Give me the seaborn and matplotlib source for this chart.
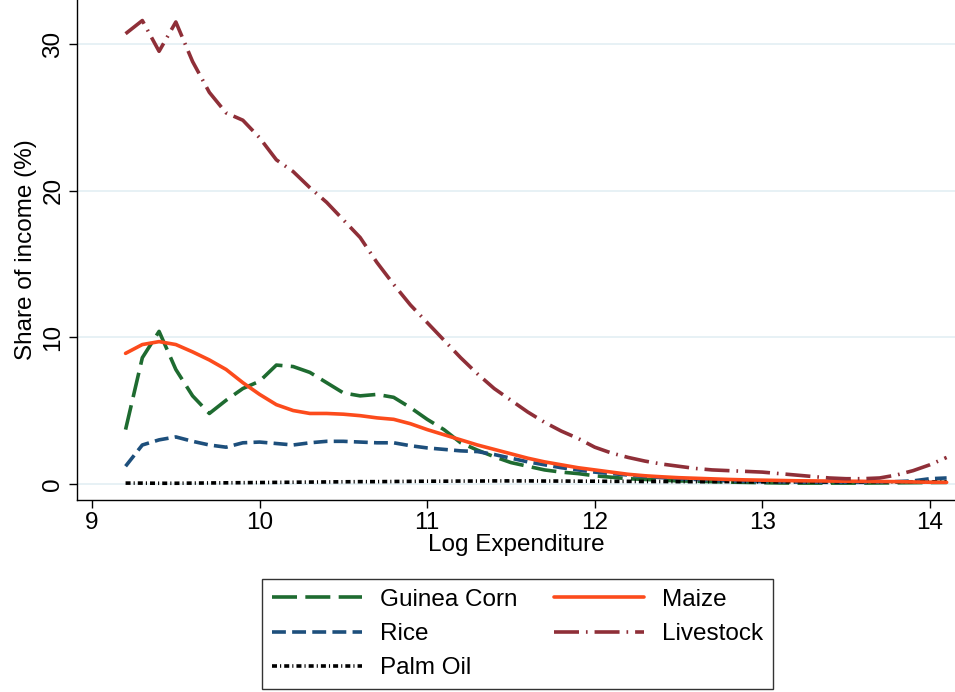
import numpy as np
import pandas as pd
import seaborn as sns
import matplotlib
matplotlib.use("Agg")
import matplotlib.pyplot as plt
from matplotlib.lines import Line2D

x_vals = [round(9.2 + 0.1 * i, 1) for i in range(50)]

guinea_corn = [3.7, 8.6, 10.4, 7.8, 6.0, 4.8, 5.7, 6.5, 7.0, 8.1,
               8.0, 7.6, 6.9, 6.2, 6.0, 6.1, 5.9, 5.2, 4.4, 3.7,
               2.8, 2.3, 1.85, 1.45, 1.2, 0.95, 0.8, 0.7, 0.55, 0.45,
               0.35, 0.3, 0.25, 0.2, 0.18, 0.15, 0.12, 0.1, 0.08, 0.06,
               0.05, 0.05, 0.05, 0.05, 0.05, 0.06, 0.07, 0.08, 0.09, 0.1]
maize = [8.9, 9.5, 9.7, 9.5, 9.0, 8.45, 7.8, 6.9, 6.1, 5.4,
         5.0, 4.8, 4.8, 4.75, 4.65, 4.5, 4.4, 4.1, 3.7, 3.35,
         3.0, 2.65, 2.35, 2.05, 1.75, 1.5, 1.3, 1.1, 0.95, 0.8,
         0.65, 0.55, 0.48, 0.42, 0.38, 0.34, 0.3, 0.27, 0.25, 0.23,
         0.21, 0.2, 0.19, 0.18, 0.17, 0.16, 0.15, 0.13, 0.11, 0.1]
rice = [1.2, 2.65, 3.0, 3.2, 2.9, 2.65, 2.5, 2.8, 2.85, 2.75,
        2.65, 2.8, 2.9, 2.9, 2.85, 2.8, 2.8, 2.6, 2.45, 2.35,
        2.25, 2.2, 2.0, 1.75, 1.5, 1.3, 1.1, 0.95, 0.8, 0.7,
        0.6, 0.5, 0.42, 0.35, 0.3, 0.25, 0.2, 0.17, 0.15, 0.13,
        0.12, 0.11, 0.1, 0.1, 0.1, 0.12, 0.15, 0.2, 0.35, 0.4]
livestock = [30.7, 31.6, 29.5, 31.5, 28.8, 26.7, 25.3, 24.8, 23.6, 22.1,
             21.3, 20.2, 19.2, 18.0, 16.8, 15.1, 13.6, 12.2, 11.0, 9.8,
             8.6, 7.5, 6.5, 5.7, 4.9, 4.2, 3.6, 3.1, 2.5, 2.1,
             1.8, 1.55, 1.35, 1.2, 1.05, 0.95, 0.9, 0.85, 0.8, 0.7,
             0.6, 0.5, 0.4, 0.35, 0.35, 0.4, 0.6, 0.9, 1.3, 1.8]
palm_oil = [0.05, 0.05, 0.04, 0.04, 0.05, 0.06, 0.07, 0.08, 0.09, 0.1,
            0.11, 0.12, 0.13, 0.14, 0.15, 0.15, 0.16, 0.17, 0.18, 0.18,
            0.19, 0.19, 0.2, 0.2, 0.2, 0.19, 0.19, 0.18, 0.18, 0.17,
            0.17, 0.16, 0.16, 0.15, 0.15, 0.15, 0.15, 0.14, 0.14, 0.14,
            0.14, 0.14, 0.14, 0.14, 0.14, 0.14, 0.14, 0.14, 0.14, 0.14]

series_names = ["Guinea Corn", "Rice", "Palm Oil", "Maize", "Livestock"]
series_values = [guinea_corn, rice, palm_oil, maize, livestock]

x_ticks = [9, 10, 11, 12, 13, 14]
y_ticks = [0, 10, 20, 30]

colors = {"Guinea Corn": "#1e6b30", "Rice": "#1d4f7c", "Palm Oil": "#000000",
          "Maize": "#fc4b1c", "Livestock": "#8f2f38"}
dash_styles = {"Guinea Corn": (18, 6), "Rice": (10, 4.5), "Palm Oil": (3.6, 2.2, 0.8, 2.2),
               "Maize": "", "Livestock": (18, 5, 1.2, 5)}

frames = []
for name, vals in zip(series_names, series_values):
    frames.append(pd.DataFrame({"x": x_vals, "y": vals, "series": name}))
df = pd.concat(frames, ignore_index=True)

sns.set_style("white")
plt.rcParams["font.family"] = ["Liberation Sans", "DejaVu Sans"]
plt.rcParams["lines.scale_dashes"] = False
plt.rcParams["text.color"] = "black"
plt.rcParams["axes.labelcolor"] = "black"
plt.rcParams["xtick.color"] = "black"
plt.rcParams["ytick.color"] = "black"

FS = 17.5
LW = 2.6

fig = plt.figure(figsize=(9.55, 6.92), dpi=100)
ax = fig.add_axes([0.0806, 0.2775, 0.9194, 0.7225])

sns.lineplot(data=df, x="x", y="y", hue="series", style="series",
             hue_order=series_names, style_order=series_names,
             palette=colors, dashes=dash_styles, linewidth=LW,
             legend=False, ax=ax, zorder=3)

ax.set_xlim(8.91, 14.15)
ax.set_ylim(-1.1, 33.0)
ax.set_xticks(x_ticks)
ax.set_yticks(y_ticks)
ax.set_xticklabels([str(t) for t in x_ticks], fontsize=FS, color="black")
ax.set_yticklabels([str(t) for t in y_ticks], fontsize=FS, rotation=90, va="center", color="black")
ax.yaxis.grid(True, color="#e3eff3", linewidth=1.2)
ax.xaxis.grid(False)
for s in ["top", "right"]:
    ax.spines[s].set_visible(False)
for s in ["left", "bottom"]:
    ax.spines[s].set_color("black")
    ax.spines[s].set_linewidth(1.0)
ax.tick_params(axis="both", direction="out", length=6, width=1, color="black",
               left=True, bottom=True, pad=3)
ax.set_xlabel("Log Expenditure", fontsize=FS, labelpad=0, color="black")
ax.set_ylabel("Share of income (%)", fontsize=FS, labelpad=4, color="black")

handles = [Line2D([0], [0], color=colors[n], linewidth=LW,
                  linestyle=(0, dash_styles[n]) if dash_styles[n] else "-")
           for n in series_names]
leg = fig.legend(handles, series_names, loc="center", bbox_to_anchor=(0.542, 0.0838),
                 ncol=2, fontsize=FS, frameon=True, fancybox=False, edgecolor="black",
                 handlelength=3.7, columnspacing=1.5, handletextpad=0.75,
                 labelspacing=0.5, borderpad=0.4)
leg.get_frame().set_linewidth(1.0)
for t in leg.get_texts():
    t.set_color("black")

fig.savefig("out.png", dpi=100)
